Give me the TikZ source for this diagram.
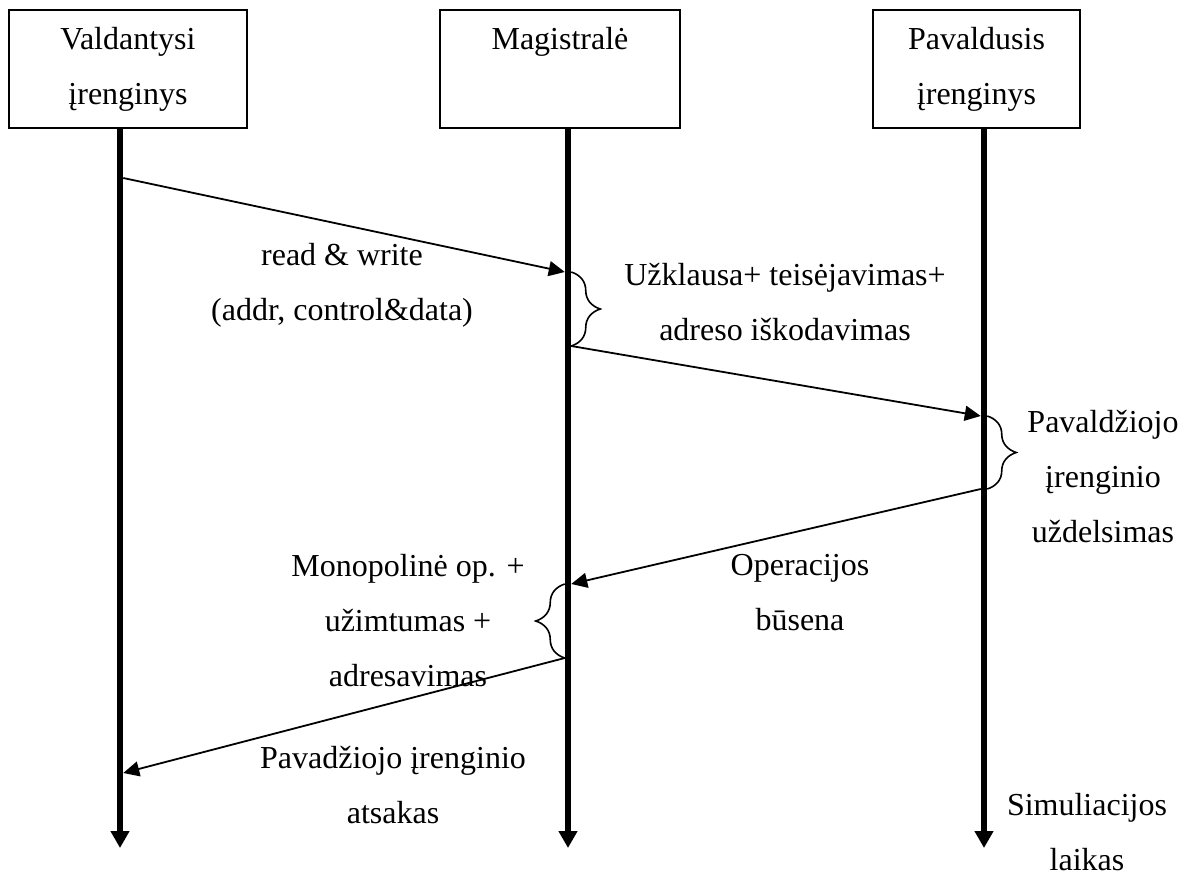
\documentclass[tikz,border=0pt]{standalone}
\usepackage{fontspec}
\setmainfont{Liberation Serif}
\usetikzlibrary{arrows.meta,decorations.pathreplacing,calc}
\begin{document}
\begin{tikzpicture}[x=1pt,y=-1pt,
  every node/.style={font=\fontsize{32}{55}\selectfont, inner sep=0pt},
  actor/.style={draw, line width=2pt, minimum height=118pt, align=center},
  lifeline/.style={line width=6.5pt, -{Triangle[length=17pt,width=18pt]}},
  msg/.style={line width=1.8pt, -{Triangle[length=16pt,width=15pt]}},
  span/.style={line width=1.6pt, decorate, decoration={brace, amplitude=29pt}},
  note/.style={align=center, anchor=base}]
\useasboundingbox (0,0) rectangle (1194,875);

% participants
\node[actor, minimum width=238pt] (master) at (128,69) {Valdantysi\\įrenginys};
\node[actor, minimum width=240pt] (bus) at (560,69) {Magistralė\\\vphantom{įg}};
\node[actor, minimum width=207pt] (slave) at (976.5,69) {Pavaldusis\\įrenginys};

% time axes
\coordinate (masterEnd) at (120,848);
\coordinate (busEnd) at (568,848);
\coordinate (slaveEnd) at (984,848);
\draw[lifeline] (master.south -| masterEnd) -- (masterEnd);
\draw[lifeline] (bus.south -| busEnd) -- (busEnd);
\draw[lifeline] (slave.south -| slaveEnd) -- (slaveEnd);

% message end points on the axes
\coordinate (e1) at (123.25,178);
\coordinate (e2) at (564.75,272);
\coordinate (e3) at (571.25,346);
\coordinate (e4) at (980.75,416);
\coordinate (e5) at (980.75,489);
\coordinate (e6) at (571.25,584);
\coordinate (e7) at (564.75,658);
\coordinate (e8) at (123.25,773);

% brace end points
\coordinate (b1a) at (571.25,272);
\coordinate (b2a) at (987.25,416);
\coordinate (b2b) at (987.25,489);
\coordinate (b3a) at (564.75,584);

% messages
\draw[msg] (e1) -- (e2);
\draw[msg] (e3) -- (e4);
\draw[msg] (e5) -- (e6);
\draw[msg] (e7) -- (e8);

% delays
\draw[span] (b1a) -- (e3);
\draw[span] (b2a) -- (b2b);
\draw[span] (e7) -- (b3a);

% labels (anchored at the baseline of their last line)
\node[note] (rw) at (342,320) {read \& write\\(addr, control\&data)};
\node[note] (uz) at (785,340) {Užklausa+ teisėjavimas+\\adreso iškodavimas};
\node[note] (pz) at (1103,542) {Pavaldžiojo\\įrenginio\\uždelsimas};
\node[note] (op) at (800,630) {Operacijos\\būsena};
\node[note] (mo) at (408,686) {Monopolinė op. +\\užimtumas +\\adresavimas};
\node[note] (pa) at (393,823) {Pavadžiojo įrenginio\\atsakas};
\node[note] (si) at (1087,870) {Simuliacijos\\laikas};
\end{tikzpicture}
\end{document}
